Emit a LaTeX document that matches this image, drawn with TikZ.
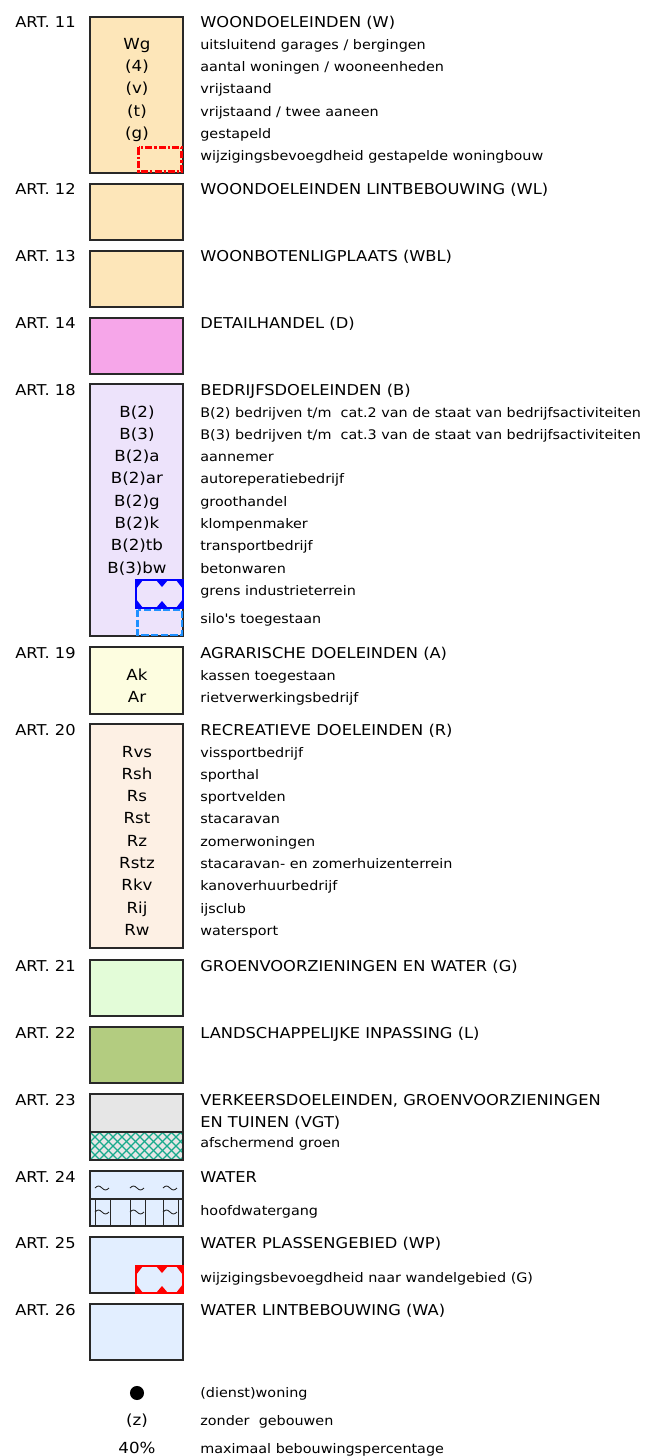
\documentclass[tikz,border=0pt]{standalone}
\usepackage{fontspec}
\setmainfont{DejaVu Sans}[FakeStretch=1.09]
\definecolor{woon}{RGB}{253,230,185}
\definecolor{detail}{RGB}{246,166,233}
\definecolor{bedrijf}{RGB}{237,227,251}
\definecolor{agrar}{RGB}{253,253,224}
\definecolor{recr}{RGB}{253,240,228}
\definecolor{groen}{RGB}{227,252,216}
\definecolor{landsch}{RGB}{179,204,128}
\definecolor{verkeer}{RGB}{230,230,230}
\definecolor{water}{RGB}{226,238,255}
\definecolor{boxline}{RGB}{40,40,40}
\definecolor{hatchc}{RGB}{24,170,140}
\definecolor{siloblue}{RGB}{30,144,255}
\tikzset{
  art/.style={anchor=base west, inner sep=0pt, font=\fontsize{8.5}{10}\selectfont},
  head/.style={anchor=base west, inner sep=0pt, font=\fontsize{8.5}{10}\selectfont},
  sub/.style={anchor=base west, inner sep=0pt, font=\fontsize{7.5}{9}\selectfont},
  code/.style={anchor=base, inner sep=0pt, font=\fontsize{8.7}{10}\selectfont},
  legbox/.style={draw=boxline, line width=0.75pt},
  hatch/.style={hatchc, line width=0.7pt},
}
% tilde sign of the water symbol
\newcommand\wave[2]{\draw[boxline, line width=0.5pt] (#1-7,#2) sin (#1-3.5,#2-2) cos (#1,#2) sin (#1+3.5,#2+2) cos (#1+7,#2);}
% box with cut-out crosses along its edges
\newcommand\crossbox[7]{%
  \draw[#5, line width=0.8pt, fill=#6] (#1,#2) rectangle (#3,#4);
  \fill[#5] (#1,#2) -- ++(7,0) -- (#1,#2+9) -- cycle;
  \fill[#5] (#7-6,#2) -- (#7+6,#2) -- (#7,#2+7) -- cycle;
  \fill[#5] (#3,#2) -- ++(-7,0) -- (#3,#2+9) -- cycle;
  \fill[#5] (#1,#4) -- ++(7,0) -- (#1,#4-9) -- cycle;
  \fill[#5] (#7-6,#4) -- (#7+6,#4) -- (#7,#4-7) -- cycle;
  \fill[#5] (#3,#4) -- ++(-7,0) -- (#3,#4-9) -- cycle;}
\begin{document}
\begin{tikzpicture}[x=0.02cm, y=-0.02cm]
  \useasboundingbox[fill=white] (0,0) rectangle (663,1456);

  % Art. 11 woondoeleinden
  \node[art] (a11) at (15,28) {ART. 11};
  \draw[legbox, fill=woon] (90,17) rectangle (183,173);
  \node[head] (t11) at (200,28) {WOONDOELEINDEN (W)};
  \node[code] (wg) at (137,50) {Wg};
  \node[code] (w4) at (137,72) {(4)};
  \node[code] (wv) at (137,94) {(v)};
  \node[code] (wt) at (137,116.5) {(t)};
  \node[code] (wgs) at (137,139) {(g)};
  \node[sub] (s11a) at (200,49.5) {uitsluitend garages / bergingen};
  \node[sub] (s11b) at (200,72) {aantal woningen / wooneenheden};
  \node[sub] (s11c) at (200,94) {vrijstaand};
  \node[sub] (s11d) at (200,116.5) {vrijstaand / twee aaneen};
  \node[sub] (s11e) at (200,139) {gestapeld};
  \node[sub] (s11f) at (200,161) {wijzigingsbevoegdheid gestapelde woningbouw};
  \draw[red, line width=1.7pt, fill=woon, dash pattern=on 4pt off 1.2pt on 1.2pt off 1.2pt]
    (138.5,147.5) rectangle (181.5,171.5);

  % Art. 12 - 14
  \node[art] (a12) at (15,195) {ART. 12};
  \draw[legbox, fill=woon] (90,184) rectangle (183,240);
  \node[head] (t12) at (200,195) {WOONDOELEINDEN LINTBEBOUWING (WL)};
  \node[art] (a13) at (15,262) {ART. 13};
  \draw[legbox, fill=woon] (90,251) rectangle (183,307);
  \node[head] (t13) at (200,262) {WOONBOTENLIGPLAATS (WBL)};
  \node[art] (a14) at (15,329) {ART. 14};
  \draw[legbox, fill=detail] (90,318) rectangle (183,374);
  \node[head] (t14) at (200,329) {DETAILHANDEL (D)};

  % Art. 18 bedrijfsdoeleinden
  \node[art] (a18) at (15,395) {ART. 18};
  \draw[legbox, fill=bedrijf] (90,384) rectangle (183,636);
  \node[head] (t18) at (200,395) {BEDRIJFSDOELEINDEN (B)};
  \foreach \c/\t [count=\i from 0] in {B(2)/{B(2) bedrijven t/m\ \ cat.2 van de staat van bedrijfsactiviteiten},
      B(3)/{B(3) bedrijven t/m\ \ cat.3 van de staat van bedrijfsactiviteiten},
      B(2)a/aannemer, B(2)ar/autoreperatiebedrijf, B(2)g/groothandel,
      B(2)k/klompenmaker, B(2)tb/transportbedrijf, B(3)bw/betonwaren}
    {\node[code] (b\i) at (137,417+22.3*\i) {\c};
     \node[sub] (sb\i) at (200,417+22.3*\i) {\t};}
  \node[sub] (s18a) at (200,595.5) {grens industrieterrein};
  \node[sub] (s18b) at (200,623) {silo\textquotesingle s toegestaan};
  \crossbox{136}{580}{183}{608}{blue}{bedrijf}{162}
  \draw[siloblue, line width=1.5pt, dash pattern=on 4pt off 1.5pt, fill=bedrijf]
    (137.5,610) rectangle (182,635);

  % Art. 19 agrarisch
  \node[art] (a19) at (15,658) {ART. 19};
  \draw[legbox, fill=agrar] (90,647) rectangle (183,714);
  \node[head] (t19) at (200,658) {AGRARISCHE DOELEINDEN (A)};
  \node[code] (ak) at (137,680) {Ak};
  \node[code] (ar) at (137,702) {Ar};
  \node[sub] (s19a) at (200,680) {kassen toegestaan};
  \node[sub] (s19b) at (200,702) {rietverwerkingsbedrijf};

  % Art. 20 recreatie
  \node[art] (a20) at (15,735) {ART. 20};
  \draw[legbox, fill=recr] (90,724) rectangle (183,948);
  \node[head] (t20) at (200,735) {RECREATIEVE DOELEINDEN (R)};
  \foreach \c/\t [count=\i from 0] in {Rvs/vissportbedrijf, Rsh/sporthal,
      Rs/sportvelden, Rst/stacaravan, Rz/zomerwoningen,
      Rstz/stacaravan- en zomerhuizenterrein, Rkv/kanoverhuurbedrijf,
      Rij/ijsclub, Rw/watersport}
    {\node[code] (r\i) at (137,757+22.3*\i) {\c};
     \node[sub] (sr\i) at (200,757+22.3*\i) {\t};}

  % Art. 21 - 22
  \node[art] (a21) at (15,971) {ART. 21};
  \draw[legbox, fill=groen] (90,960) rectangle (183,1016);
  \node[head] (t21) at (200,971) {GROENVOORZIENINGEN EN WATER (G)};
  \node[art] (a22) at (15,1038) {ART. 22};
  \draw[legbox, fill=landsch] (90,1027) rectangle (183,1083);
  \node[head] (t22) at (200,1038) {LANDSCHAPPELIJKE INPASSING (L)};

  % Art. 23 verkeer
  \node[art] (a23) at (15,1105) {ART. 23};
  \draw[legbox, fill=verkeer] (90,1094) rectangle (183,1160);
  \begin{scope}
    \clip (90,1132) rectangle (183,1160);
    \foreach \i in {-36,-27,...,99}
      {\draw[hatch] (90+\i,1132) -- ++(28,28);
       \draw[hatch] (90+\i,1160) -- ++(28,-28);}
  \end{scope}
  \draw[legbox] (90,1132) -- (183,1132) (90,1094) rectangle (183,1160);
  \node[head] (t23a) at (200,1105) {VERKEERSDOELEINDEN, GROENVOORZIENINGEN};
  \node[head] (t23b) at (200,1127) {EN TUINEN (VGT)};
  \node[sub] (s23) at (200,1147) {afschermend groen};

  % Art. 24 water
  \node[art] (a24) at (15,1182) {ART. 24};
  \draw[legbox, fill=water] (90,1171) rectangle (183,1226);
  \draw[legbox] (90,1199) -- (183,1199);
  \wave{102}{1188} \wave{137}{1188} \wave{170}{1188}
  \foreach \x in {95,110,130,145,163,178}
    \draw[boxline, line width=0.5pt] (\x,1199) -- (\x,1226);
  \wave{102}{1212} \wave{137}{1212} \wave{170}{1212}
  \node[head] (t24) at (200,1182) {WATER};
  \node[sub] (s24) at (200,1215) {hoofdwatergang};

  % Art. 25 - 26
  \node[art] (a25) at (15,1248) {ART. 25};
  \draw[legbox, fill=water] (90,1237) rectangle (183,1293);
  \crossbox{136}{1266}{183}{1293}{red}{water}{162}
  \node[head] (t25) at (200,1248) {WATER PLASSENGEBIED (WP)};
  \node[sub] (s25) at (200,1282) {wijzigingsbevoegdheid naar wandelgebied (G)};
  \node[art] (a26) at (15,1315) {ART. 26};
  \draw[legbox, fill=water] (90,1304) rectangle (183,1360);
  \node[head] (t26) at (200,1315) {WATER LINTBEBOUWING (WA)};

  % overige aanduidingen
  \fill (137,1393) circle[radius=4pt];
  \node[sub] (dw) at (200,1397) {(dienst)woning};
  \node[code] (zz) at (137,1425) {(z)};
  \node[sub] (zg) at (200,1425) {zonder\ \ gebouwen};
  \node[code] (pc) at (137,1453) {40\%};
  \node[sub] (mb) at (200,1453) {maximaal bebouwingspercentage};
\end{tikzpicture}
\end{document}
